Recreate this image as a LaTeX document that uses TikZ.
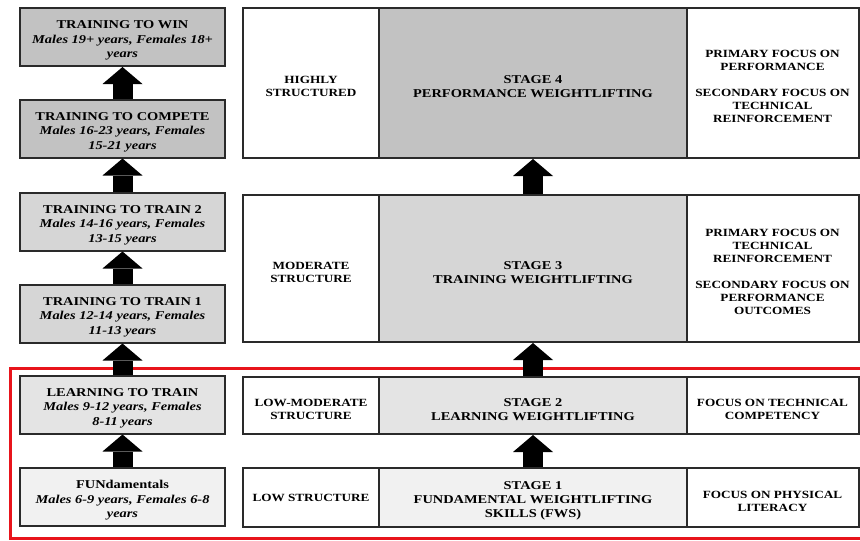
\documentclass[tikz,border=0pt]{standalone}
\usepackage{fontspec}
\setmainfont{Liberation Serif}[FakeStretch=1.2]
\usetikzlibrary{arrows.meta}
\definecolor{bordc}{HTML}{2A2A2A}
\definecolor{ga}{HTML}{C2C2C2}
\definecolor{gb}{HTML}{D6D6D6}
\definecolor{gc}{HTML}{E4E4E4}
\definecolor{gd}{HTML}{F1F1F1}
\definecolor{redc}{HTML}{E8141B}
\newcommand\mystrutA{\rule{0pt}{15.5pt}}
\newcommand\mystrutB{\rule{0pt}{14.5pt}}
\begin{document}
\begin{tikzpicture}[x=1pt,y=-1pt,
  box/.style={draw=bordc,line width=2pt,inner sep=0pt,align=center,
    font=\bfseries\fontsize{12}{14}\selectfont},
  lbox/.style={box,minimum width=205pt,minimum height=58pt,
    font=\bfseries\fontsize{12}{14.5}\selectfont},
  sidebox/.style={box,fill=white,font=\bfseries\fontsize{11}{13}\selectfont},
  bigarrow/.style={draw=black,line width=20pt,-{Triangle[width=40pt,length=17pt,line width=0pt]}}
]
\useasboundingbox (0,0) rectangle (860,541);
\fill[white] (0,0) rectangle (860,541);
% red frame
\draw[redc,line width=3pt] (866,368) -- (10,368) -- (10,538) -- (866,538);
% left column
\node[lbox,fill=ga] (l1) at (122.5,37) {\mystrutA TRAINING TO WIN\\\textit{Males 19+ years, Females 18+}\\\textit{years}};
\node[lbox,fill=ga] (l2) at (122.5,128.5) {\mystrutA TRAINING TO COMPETE\\\textit{Males 16-23 years, Females}\\\textit{15-21 years}};
\node[lbox,fill=gb] (l3) at (122.5,221.5) {\mystrutA TRAINING TO TRAIN 2\\\textit{Males 14-16 years, Females}\\\textit{13-15 years}};
\node[lbox,fill=gb] (l4) at (122.5,313.5) {\mystrutA TRAINING TO TRAIN 1\\\textit{Males 12-14 years, Females}\\\textit{11-13 years}};
\node[lbox,fill=gc] (l5) at (122.5,404.5) {\mystrutA LEARNING TO TRAIN\\\textit{Males 9-12 years, Females}\\\textit{8-11 years}};
\node[lbox,fill=gd] (l6) at (122.5,497) {\mystrutA FUNdamentals\\\textit{Males 6-9 years, Females 6-8}\\\textit{years}};
% right rows
\node[sidebox,minimum width=136pt,minimum height=150pt] (s4) at (311,83) {\mystrutB HIGHLY\\STRUCTURED};
\node[box,fill=ga,minimum width=308pt,minimum height=150pt] (m4) at (533,83) {\mystrutA STAGE 4\\PERFORMANCE WEIGHTLIFTING};
\node[sidebox,minimum width=172pt,minimum height=150pt] (f4) at (772.5,83) {\mystrutB PRIMARY FOCUS ON\\PERFORMANCE\\[13pt]SECONDARY FOCUS ON\\TECHNICAL\\REINFORCEMENT};

\node[sidebox,minimum width=136pt,minimum height=147pt] (s3) at (311,268.5) {\mystrutB MODERATE\\STRUCTURE};
\node[box,fill=gb,minimum width=308pt,minimum height=147pt] (m3) at (533,268.5) {\mystrutA STAGE 3\\TRAINING WEIGHTLIFTING};
\node[sidebox,minimum width=172pt,minimum height=147pt] (f3) at (772.5,268.5) {\mystrutB PRIMARY FOCUS ON\\TECHNICAL\\REINFORCEMENT\\[13pt]SECONDARY FOCUS ON\\PERFORMANCE\\OUTCOMES};

\node[sidebox,minimum width=136pt,minimum height=57pt] (s2) at (311,405.5) {\mystrutB LOW-MODERATE\\STRUCTURE};
\node[box,fill=gc,minimum width=308pt,minimum height=57pt] (m2) at (533,405.5) {\mystrutA STAGE 2\\LEARNING WEIGHTLIFTING};
\node[sidebox,minimum width=172pt,minimum height=57pt] (f2) at (772.5,405.5) {\mystrutB FOCUS ON TECHNICAL\\COMPETENCY};

\node[sidebox,minimum width=136pt,minimum height=59pt] (s1) at (311,497.5) {LOW STRUCTURE};
\node[box,fill=gd,minimum width=308pt,minimum height=59pt] (m1) at (533,497.5) {\mystrutA STAGE 1\\FUNDAMENTAL WEIGHTLIFTING\\SKILLS (FWS)};
\node[sidebox,minimum width=172pt,minimum height=59pt] (f1) at (772.5,497.5) {\mystrutB FOCUS ON PHYSICAL\\LITERACY};
% arrows
\draw[bigarrow] (l2.north) -- (l1.south);
\draw[bigarrow] (l3.north) -- (l2.south);
\draw[bigarrow] (l4.north) -- (l3.south);
\draw[bigarrow] (l5.north) -- (l4.south);
\draw[bigarrow] (l6.north) -- (l5.south);
\draw[bigarrow] (m3.north) -- (m4.south);
\draw[bigarrow] (m2.north) -- (m3.south);
\draw[bigarrow] (m1.north) -- (m2.south);
\end{tikzpicture}
\end{document}
